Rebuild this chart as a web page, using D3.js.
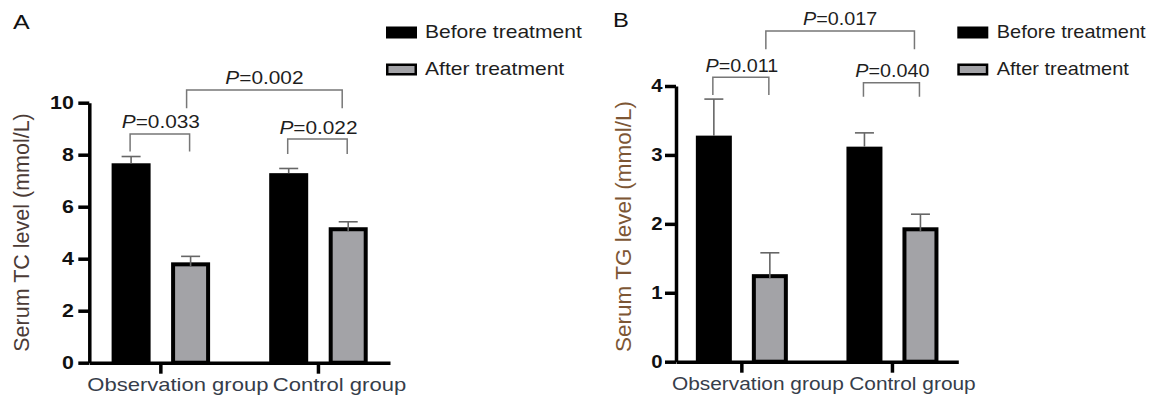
<!DOCTYPE html>
<html>
<head>
<meta charset="utf-8">
<script src="https://cdn.jsdelivr.net/npm/d3@7"></script>
<style>
  body { margin: 0; background: #fff; }
  svg { display: block; font-family: "Liberation Sans", Arial, sans-serif; }
</style>
</head>
<body>
<svg id="chart" width="1154" height="397"></svg>
<script>
// data
const groups = ["Observation group", "Control group"];
const series = ["Before treatment", "After treatment"];

const tcBefore = [7.67, 7.29];
const tcBeforeSd = [0.26, 0.18];
const tcAfter = [3.86, 5.21];
const tcAfterSd = [0.23, 0.21];
const tcTicks = [0, 2, 4, 6, 8, 10];
const tcWithinP = ["0.033", "0.022"];
const tcBetweenP = "0.002";

const tgBefore = [3.28, 3.12];
const tgBeforeSd = [0.53, 0.20];
const tgAfter = [1.27, 1.95];
const tgAfterSd = [0.31, 0.19];
const tgTicks = [0, 1, 2, 3, 4];
const tgWithinP = ["0.011", "0.040"];
const tgBetweenP = "0.017";

const GRAY = "#a3a3a7";
const svg = d3.select("#chart");

// text stretched horizontally like the (resized) original figure
function stext(g, x, y, sx) {
  return g.append("text").attr("transform", `translate(${x},${y}) scale(${sx},1)`);
}
function ptext(g, x, y, sx, val) {
  const t = stext(g, x, y, sx).attr("text-anchor", "middle").attr("font-size", 17.5).attr("fill", "#1e1e1e");
  t.append("tspan").attr("font-style", "italic").text("P");
  t.append("tspan").text("=" + val);
}

const panels = [
  {
    letter: "A", letterX: 13, letterY: 28.5,
    title: "Serum TC level (mmol/L)", titleColor: "#4b3b36", titleX: 29, titleY: 232.5, titleSize: 21.5,
    before: tcBefore, beforeSd: tcBeforeSd, after: tcAfter, afterSd: tcAfterSd,
    ticks: tcTicks, within: tcWithinP, between: tcBetweenP,
    x0: 89.3, x1: 390, yBottom: 362.7, yTop: 102.7, outerPad: 0.092,
    barW: 39, gap: 20.5, sx: 1.19, tickPad: 4.5, labelDx: [17, 21],
    withinLevel: [[8.80, 8.12], [8.60, 8.03]], betweenLevel: [10.49, 9.79],
    legendX: 386, textX: 425
  },
  {
    letter: "B", letterX: 613, letterY: 27,
    title: "Serum TG level (mmol/L)", titleColor: "#7d5634", titleX: 631, titleY: 226.5, titleSize: 22.5,
    before: tgBefore, beforeSd: tgBeforeSd, after: tgAfter, afterSd: tgAfterSd,
    ticks: tgTicks, within: tgWithinP, between: tgBetweenP,
    x0: 676, x1: 958.3, yBottom: 361.7, yTop: 86, outerPad: 0.1255,
    barW: 36, gap: 20, sx: 1.13, tickPad: 2.5, labelDx: [16, 20],
    withinLevel: [[4.126, 3.87], [4.048, 3.845]], betweenLevel: [4.798, 4.532],
    legendX: 957.3, textX: 996.7
  }
];

panels.forEach(p => {
  const g = svg.append("g");
  const yMax = d3.max(p.ticks);

  const x = d3.scaleBand().domain(groups).range([p.x0, p.x1]).paddingInner(p.outerPad).paddingOuter(0);
  const W = p.barW * 2 + p.gap;
  const inner = d3.scaleBand().domain(series).range([-W / 2, W / 2])
    .paddingInner(p.gap / (p.gap + p.barW)).paddingOuter(0);
  const y = d3.scaleLinear().domain([0, yMax]).range([p.yBottom, p.yTop]);

  const rows = groups.map((grp, i) => ({
    grp,
    vals: [
      { s: series[0], v: p.before[i], sd: p.beforeSd[i] },
      { s: series[1], v: p.after[i], sd: p.afterSd[i] }
    ]
  }));
  const cx = (grp, s) => x(grp) + x.bandwidth() / 2 + inner(s) + inner.bandwidth() / 2;

  // bars
  const bw = inner.bandwidth();
  rows.forEach(r => {
    r.vals.forEach(d => {
      const left = x(r.grp) + x.bandwidth() / 2 + inner(d.s);
      if (d.s === series[0]) {
        g.append("rect").attr("x", left).attr("y", y(d.v))
          .attr("width", bw).attr("height", y(0) - y(d.v)).attr("fill", "#000");
      } else {
        g.append("rect").attr("x", left + 2).attr("y", y(d.v) + 2)
          .attr("width", bw - 4).attr("height", y(0) - y(d.v) - 2)
          .attr("fill", GRAY).attr("stroke", "#000").attr("stroke-width", 4);
      }
    });
  });

  // error bars (upper only)
  rows.forEach(r => {
    r.vals.forEach(d => {
      const c = cx(r.grp, d.s);
      const top = y(d.v + d.sd);
      g.append("line").attr("x1", c).attr("x2", c).attr("y1", y(d.v) + (d.s === series[1] ? 4 : 0)).attr("y2", top)
        .attr("stroke", "#666").attr("stroke-width", 1.6);
      g.append("line").attr("x1", c - 9.5).attr("x2", c + 9.5).attr("y1", top).attr("y2", top)
        .attr("stroke", "#666").attr("stroke-width", 1.6);
    });
  });

  // axes
  const yAxis = g.append("g").attr("transform", `translate(${p.x0},0)`)
    .call(d3.axisLeft(y).tickValues(p.ticks).tickFormat(d3.format("d"))
      .tickSize(11).tickSizeOuter(0).tickPadding(p.tickPad));
  yAxis.selectAll("path, line").attr("stroke", "#000").attr("stroke-width", 3.5);
  yAxis.selectAll("text")
    .attr("transform", function () { return `translate(${d3.select(this).attr("x")},0) scale(${p.sx},1)`; })
    .attr("x", 0)
    .attr("font-size", 18).attr("font-weight", "bold").attr("fill", "#111")
    .attr("font-family", "'Liberation Sans', Arial, sans-serif");

  const xAxis = g.append("g").attr("transform", `translate(0,${p.yBottom})`)
    .call(d3.axisBottom(x).tickSize(11).tickSizeOuter(0));
  xAxis.selectAll("path, line").attr("stroke", "#000").attr("stroke-width", 3.5);
  xAxis.selectAll("text")
    .attr("y", 0).attr("dy", null)
    .attr("transform", (d, i) => `translate(${p.labelDx[i]},28) scale(${p.sx},1)`)
    .attr("font-size", 18.5).attr("fill", "#363d4a")
    .attr("font-family", "'Liberation Sans', Arial, sans-serif");

  // y title
  g.append("text").attr("transform", `translate(${p.titleX},${p.titleY}) rotate(-90)`)
    .attr("text-anchor", "middle").attr("font-size", p.titleSize).attr("fill", p.titleColor)
    .text(p.title);

  // panel letter
  stext(g, p.letterX, p.letterY, p.sx).attr("font-size", 21).attr("fill", "#111").text(p.letter);

  // significance brackets
  const bracket = (xa, xb, yh, yl) => {
    g.append("path")
      .attr("d", `M${xa},${yl}V${yh}H${xb}V${yl}`)
      .attr("fill", "none").attr("stroke", "#777").attr("stroke-width", 1.5);
  };
  groups.forEach((grp, i) => {
    const xa = cx(grp, series[0]) - 1, xb = cx(grp, series[1]) - 1;
    const [hi, lo] = p.withinLevel[i];
    bracket(xa, xb, y(hi), y(lo));
    ptext(g, x(grp) + x.bandwidth() / 2, y(hi) - 5.5, p.sx, p.within[i]);
  });
  {
    const xa = cx(groups[0], series[1]) - 4, xb = cx(groups[1], series[1]) - 6;
    const [hi, lo] = p.betweenLevel;
    bracket(xa, xb, y(hi), y(lo));
    ptext(g, (xa + xb) / 2, y(hi) - 6, p.sx, p.between);
  }

  // legend
  const leg = g.append("g");
  series.forEach((s, i) => {
    const cy = 32.5 + i * 37;
    if (i === 0) {
      leg.append("rect").attr("x", p.legendX).attr("y", cy - 6).attr("width", 31).attr("height", 12).attr("fill", "#000");
    } else {
      leg.append("rect").attr("x", p.legendX + 1.25).attr("y", cy - 4.75).attr("width", 28.5).attr("height", 9.5)
        .attr("fill", GRAY).attr("stroke", "#000").attr("stroke-width", 2.5);
    }
    stext(leg, p.textX, cy + 5.5, p.sx).attr("font-size", 17.7).attr("fill", "#1e1e1e").text(s);
  });
});
</script>
</body>
</html>
